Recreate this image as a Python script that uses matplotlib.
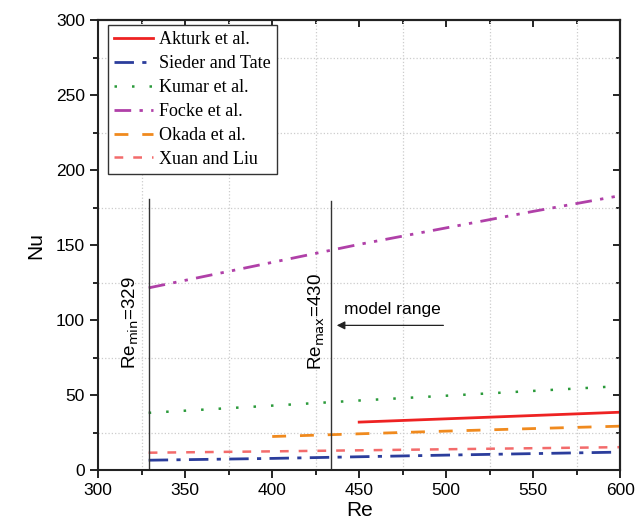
import numpy as np
import matplotlib.pyplot as plt
from matplotlib.ticker import MultipleLocator

# values
re_akturk = [450, 500, 550, 600]
nu_akturk = [32.0, 34.2, 36.4, 38.6]

re_sieder = [329, 400, 450, 500, 550, 600]
nu_sieder = [6.6, 7.8, 8.9, 10.0, 11.0, 12.0]

re_kumar = [329, 400, 450, 500, 550, 600]
nu_kumar = [38.2, 43.0, 46.4, 49.6, 52.8, 56.0]

re_focke = [329, 400, 450, 500, 550, 600]
nu_focke = [121.5, 138.5, 150.5, 161.5, 172.5, 183.0]

re_okada = [400, 450, 500, 550, 600]
nu_okada = [22.4, 24.2, 26.0, 27.7, 29.3]

re_xuan = [329, 400, 450, 500, 550, 600]
nu_xuan = [11.6, 12.5, 13.2, 13.9, 14.6, 15.3]

re_min, re_max_line = 329, 434

plt.rcParams['font.family'] = ['Liberation Sans', 'DejaVu Sans']

fig = plt.figure(figsize=(6.42, 5.3), dpi=100)
ax = fig.add_axes([0.153, 0.113, 0.813, 0.849])

ax.plot(re_akturk, nu_akturk, color='#ee2222', lw=2, label='Akturk et al.')
ax.plot(re_sieder, nu_sieder, color='#2b3d9c', lw=2, dashes=(7, 3, 1.5, 3), label='Sieder and Tate')
ax.plot(re_kumar, nu_kumar, color='#2a9a3a', lw=1.8, dashes=(1, 6), label='Kumar et al.')
ax.plot(re_focke, nu_focke, color='#b040a8', lw=2, dashes=(6, 3, 1.2, 3, 1.2, 3), label='Focke et al.')
ax.plot(re_okada, nu_okada, color='#f08a1e', lw=2, dashes=(5, 5), label='Okada et al.')
ax.plot(re_xuan, nu_xuan, color='#f36b6b', lw=1.8, dashes=(3.5, 4), label='Xuan and Liu')

ax.plot([re_min, re_min], [0, 181], color='#333333', lw=1)
ax.plot([re_max_line, re_max_line], [0, 179.5], color='#333333', lw=1)

ax.text(318.5, 98.5, r'Re$_{\mathrm{min}}$=329', rotation=90, fontsize=13.5,
        ha='center', va='center')
ax.text(425.5, 99, r'Re$_{\mathrm{max}}$=430', rotation=90, fontsize=13.5,
        ha='center', va='center')
ax.text(469, 107, 'model range', fontsize=12.5, ha='center', va='center')
ax.annotate('', xy=(435.5, 96.5), xytext=(500, 96.5),
            arrowprops=dict(arrowstyle='-|>', color='#222222', lw=0.9,
                            mutation_scale=12))

ax.set_xlim(300, 600)
ax.set_ylim(0, 300)
ax.xaxis.set_major_locator(MultipleLocator(50))
ax.xaxis.set_minor_locator(MultipleLocator(25))
ax.yaxis.set_major_locator(MultipleLocator(50))
ax.yaxis.set_minor_locator(MultipleLocator(25))

ax.grid(which='minor', color='#cccccc', ls=':', lw=0.9)
ax.tick_params(which='major', direction='out', length=6, width=1.2, labelsize=12.5)
ax.tick_params(which='minor', direction='out', length=3.5, width=1.2)
for s in ax.spines.values():
    s.set_linewidth(1.5)
    s.set_color('#222222')

# inward ticks on top and right
top = ax.secondary_xaxis('top')
top.set_xticks(np.arange(300, 601, 50))
top.xaxis.set_minor_locator(MultipleLocator(25))
top.tick_params(which='major', direction='in', length=5, width=1.2, labeltop=False)
top.tick_params(which='minor', direction='in', length=3, width=1.2)
top.spines['top'].set_linewidth(1.5)
right = ax.secondary_yaxis('right')
right.set_yticks(np.arange(0, 301, 50))
right.yaxis.set_minor_locator(MultipleLocator(25))
right.tick_params(which='major', direction='in', length=5, width=1.2, labelright=False)
right.tick_params(which='minor', direction='in', length=3, width=1.2)
right.spines['right'].set_linewidth(1.5)

ax.set_xlabel('Re', fontsize=15, labelpad=2)
ax.set_ylabel('Nu', fontsize=15, labelpad=8)

leg = ax.legend(loc='upper left', bbox_to_anchor=(0.019, 0.989), borderaxespad=0,
                fancybox=False, edgecolor='#333333', framealpha=1, handlelength=2.15,
                prop={'family': 'Liberation Serif', 'size': 13},
                borderpad=0.35, labelspacing=0.38, handletextpad=0.3)
leg.get_frame().set_linewidth(1.0)

fig.savefig('out.png', dpi=100)
